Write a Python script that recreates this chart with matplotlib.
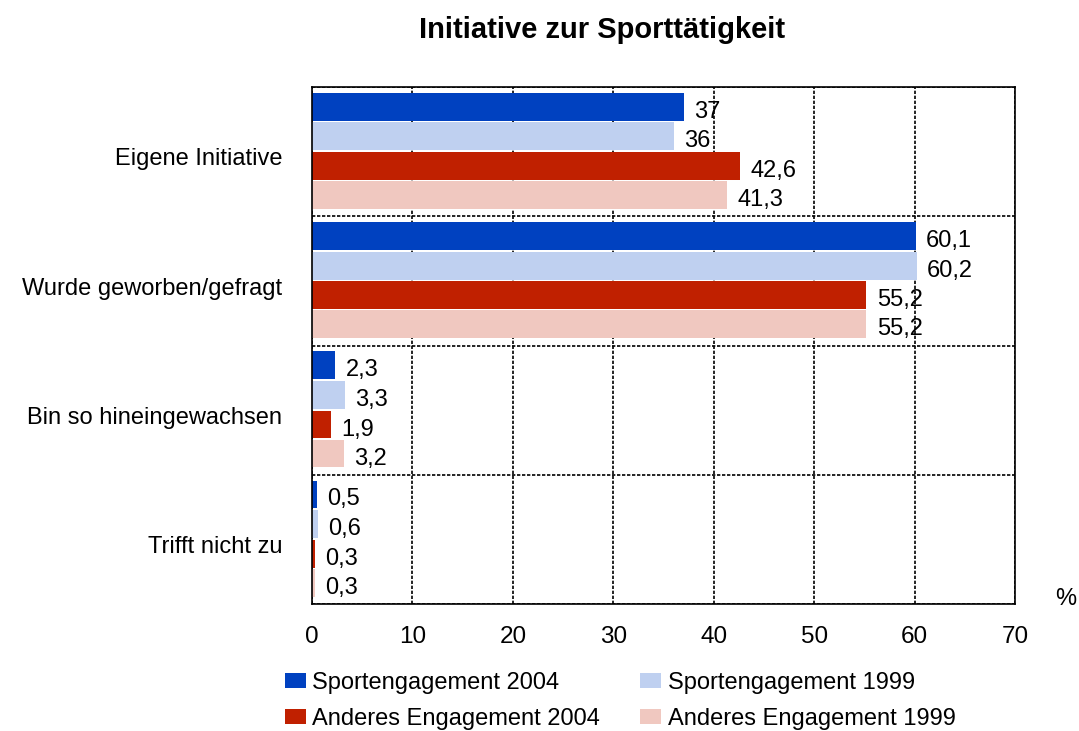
import matplotlib.pyplot as plt
import numpy as np

plt.rcParams['font.family'] = ['Liberation Sans', 'DejaVu Sans']

categories = ['Eigene Initiative', 'Wurde geworben/gefragt', 'Bin so hineingewachsen', 'Trifft nicht zu']
series_names = ['Sportengagement 2004', 'Sportengagement 1999', 'Anderes Engagement 2004', 'Anderes Engagement 1999']
sport_2004 = [37, 60.1, 2.3, 0.5]
sport_1999 = [36, 60.2, 3.3, 0.6]
anderes_2004 = [42.6, 55.2, 1.9, 0.3]
anderes_1999 = [41.3, 55.2, 3.2, 0.3]
x_ticks = [0, 10, 20, 30, 40, 50, 60, 70]

colors = ['#0041c0', '#bfd0f0', '#c02000', '#f0c8c0']
series = [sport_2004, sport_1999, anderes_2004, anderes_1999]

fig = plt.figure(figsize=(10.79, 7.31), dpi=100)
ax = fig.add_axes([312 / 1079, 1 - 604 / 731, (1015 - 312) / 1079, (604 - 87) / 731])

# bar offsets inside each category band (band = 1 unit)
offsets = [0.152, 0.382, 0.612, 0.836]
bar_h = 0.215
base = np.arange(len(categories))

handles = []
for vals, off, col, name in zip(series, offsets, colors, series_names):
    bars = ax.barh(base + off, vals, height=bar_h, color=col, label=name, zorder=1)
    handles.append(bars)
    for y, v in zip(base + off, vals):
        ax.annotate(f'{v:g}'.replace('.', ','), xy=(v, y), xytext=(7.5, -3.6),
                    textcoords='offset points', va='center', ha='left', fontsize=17)

ax.set_xlim(0, 70)
ax.set_ylim(len(categories), 0)
ax.set_xticks(x_ticks)
ax.set_xticklabels([str(t) for t in x_ticks], fontsize=17.5)
# category labels sit a little below the band centre
ax.set_yticks(base + 0.54)
ax.set_yticklabels(categories, fontsize=17)
ax.set_yticks(np.arange(len(categories) + 1), minor=True)
ax.tick_params(axis='both', length=0, which='both')
ax.tick_params(axis='x', pad=15.5)
ax.tick_params(axis='y', pad=21.5)

ax.grid(axis='x', which='major', color='black', linestyle=(0, (2, 1)), linewidth=1.2, zorder=0)
ax.grid(axis='y', which='minor', color='black', linestyle=(0, (2, 1)), linewidth=1.2, zorder=0)
ax.set_axisbelow(True)
for sp in ax.spines.values():
    sp.set_linestyle((0, (2, 1)))
    sp.set_linewidth(1.2)

fig.text(1066 / 1079, 1 - 599 / 731, '%', fontsize=17, ha='center', va='center')
fig.text(602 / 1079, 1 - 38 / 731, 'Initiative zur Sporttätigkeit', fontsize=21,
         fontweight='bold', ha='center', va='baseline')

# row-major order: matplotlib fills legend columns first
order = [0, 2, 1, 3]
fig.legend(handles=[handles[i] for i in order],
           labels=[series_names[i] for i in order], ncol=2, loc='upper left',
           bbox_to_anchor=(285 / 1079, 1 - 672 / 731), frameon=False, borderpad=0,
           borderaxespad=0, fontsize=17, handlelength=0.88, handleheight=0.6,
           handletextpad=0.28, columnspacing=1.7, labelspacing=0.58)

fig.savefig('out.png', dpi=100)
